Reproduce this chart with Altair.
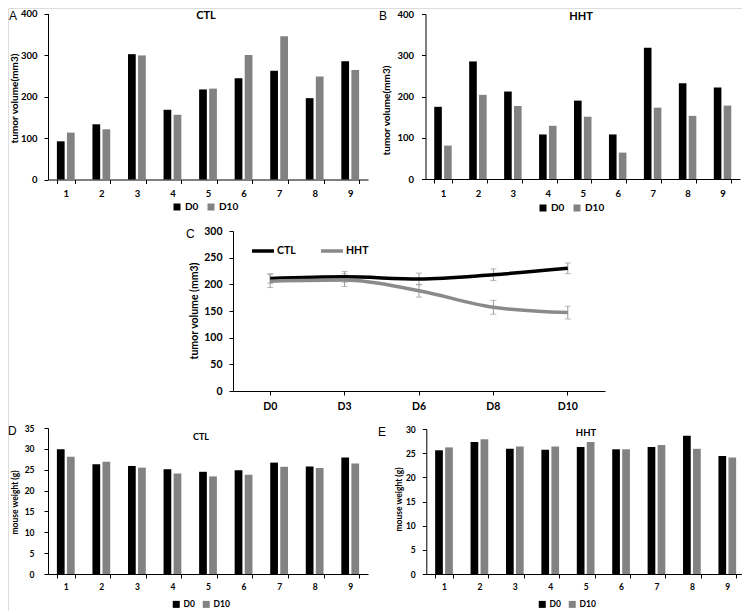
import altair as alt
import pandas as pd

# ---------------- data ----------------
mice = ["1", "2", "3", "4", "5", "6", "7", "8", "9"]
days = ["D0", "D10"]

a_d0 = [92, 133, 302, 168, 217, 244, 262, 196, 285]
a_d10 = [113, 121, 299, 156, 219, 300, 345, 248, 264]

b_d0 = [175, 285, 212, 108, 190, 108, 318, 232, 222]
b_d10 = [81, 204, 177, 129, 151, 64, 173, 153, 178]

c_days = ["D0", "D3", "D6", "D8", "D10"]
c_ctl = [211, 214, 210, 218, 230]
c_ctl_err = [9, 10, 11, 11, 10]
c_hht = [206, 208, 188, 157, 147]
c_hht_err = [12, 12, 12, 13, 12]

d_d0 = [29.9, 26.3, 25.9, 25.1, 24.5, 24.9, 26.7, 25.8, 27.9]
d_d10 = [28.1, 26.9, 25.5, 24.1, 23.4, 23.8, 25.7, 25.4, 26.5]

e_d0 = [25.6, 27.3, 25.9, 25.7, 26.3, 25.8, 26.3, 28.6, 24.4]
e_d10 = [26.2, 27.9, 26.4, 26.4, 27.3, 25.8, 26.7, 25.9, 24.1]

W, H = 734, 603
FONT = "Lato"
BLACK = "#000000"
GRAY = "#828282"


def bar_df(d0, d10):
    rows = []
    for m, v0, v1 in zip(mice, d0, d10):
        rows.append({"mouse": m, "day": "D0", "value": v0})
        rows.append({"mouse": m, "day": "D10", "value": v1})
    return pd.DataFrame(rows)


def bar_panel(df, xr, yr, ydom, yvals, ytitle, title_xy, lab_pad_y, lab_size,
              title_size, legend_xy, leg_size, xlab_pad):
    x0, x1 = xr
    y0, y1 = yr
    return alt.Chart(df).mark_bar().encode(
        x=alt.X("mouse:O", sort=mice,
                scale=alt.Scale(range=[x0, x1], paddingInner=0.5, paddingOuter=0.25),
                axis=alt.Axis(orient="bottom", offset=y0 - H, title=None, labelAngle=0,
                              tickBand="extent", tickSize=4, labelPadding=xlab_pad,
                              labelFontSize=lab_size, labelFontWeight="bold",
                              labelFont=FONT, labelColor=BLACK, domainColor=BLACK,
                              tickColor=BLACK, grid=False)),
        xOffset=alt.XOffset("day:N", sort=days,
                            scale=alt.Scale(paddingInner=0.23, paddingOuter=0)),
        y=alt.Y("value:Q",
                scale=alt.Scale(domain=ydom, range=[y0, y1], nice=False, zero=True),
                axis=alt.Axis(orient="left", offset=-x0, values=yvals, title=ytitle,
                              titleX=title_xy[0], titleY=title_xy[1], titleAngle=-90,
                              titleAlign="center", titleBaseline="middle",
                              titleFontSize=title_size, titleFont=FONT,
                              titleFontWeight="bold", titleColor=BLACK,
                              tickSize=4, labelPadding=lab_pad_y,
                              labelFontSize=lab_size, labelFontWeight="bold",
                              labelFont=FONT, labelColor=BLACK, domainColor=BLACK,
                              tickColor=BLACK, grid=False)),
        color=alt.Color("day:N", sort=days,
                        scale=alt.Scale(domain=days, range=[BLACK, GRAY]),
                        legend=alt.Legend(orient="none", legendX=legend_xy[0],
                                          legendY=legend_xy[1], direction="horizontal",
                                          title=None, symbolType="square",
                                          symbolSize=49, symbolStrokeWidth=0,
                                          labelFontSize=leg_size, labelFont=FONT,
                                          labelFontWeight="bold", labelColor=BLACK,
                                          labelOffset=3, columnPadding=7, padding=0)),
    )


panel_a = bar_panel(bar_df(a_d0, a_d10), (40, 360), (171.5, 5.5), [0, 400],
                    [0, 100, 200, 300, 400], "tumor volume(mm3)", (-34, 90),
                    7, 9.5, 10, (164, 194), 10, 5)
panel_b = bar_panel(bar_df(b_d0, b_d10), (417.5, 732), (171, 6), [0, 400],
                    [0, 100, 200, 300, 400], "tumor volume(mm3)", (-39, 102),
                    8, 9.5, 10, (530, 195), 10, 5)
panel_d = bar_panel(bar_df(d_d0, d_d10), (40, 360), (566, 420), [0, 35],
                    [0, 5, 10, 15, 20, 25, 30, 35], "mouse weight (g)", (-34, 494),
                    10, 8.5, 8.5, (164, 592), 8.5, 4)
panel_e = bar_panel(bar_df(e_d0, e_d10), (418.3, 737), (566, 421), [0, 30],
                    [0, 5, 10, 15, 20, 25, 30], "mouse weight (g)", (-28, 491),
                    7, 8.5, 8.5, (530, 592), 8.5, 4)

# ---------------- panel C ----------------
c_rows = []
for g, vals, errs in (("CTL", c_ctl, c_ctl_err), ("HHT", c_hht, c_hht_err)):
    for d, v, e in zip(c_days, vals, errs):
        c_rows.append({"day": d, "group": g, "value": v, "lo": v - e, "hi": v + e})
c_df = pd.DataFrame(c_rows)

cx0, cx1 = 225, 597
cy0, cy1 = 383, 223
c_xscale = alt.Scale(domain=c_days, range=[cx0, cx1], padding=0)
c_yscale = alt.Scale(domain=[0, 300], range=[cy0, cy1], nice=False)
c_xaxis = alt.Axis(orient="bottom", offset=cy0 - H, title=None, labelAngle=0,
                   tickSize=4, labelPadding=6, labelFontSize=10.5,
                   labelFontWeight="bold", labelFont=FONT, labelColor=BLACK,
                   domainColor=BLACK, tickColor=BLACK, grid=False)
c_yaxis = alt.Axis(orient="left", offset=-cx0, values=[0, 50, 100, 150, 200, 250, 300],
                   title="tumor volume (mm3)", titleX=-38.5, titleY=302.5,
                   titleAngle=-90, titleAlign="center", titleBaseline="middle",
                   titleFontSize=10.5, titleFont=FONT, titleFontWeight="bold",
                   titleColor=BLACK, tickSize=4, labelPadding=7, labelFontSize=10.5,
                   labelFontWeight="bold", labelFont=FONT, labelColor=BLACK,
                   domainColor=BLACK, tickColor=BLACK, grid=False)
c_color = alt.Color("group:N", scale=alt.Scale(domain=["CTL", "HHT"], range=[BLACK, "#8a8a8a"]),
                    legend=alt.Legend(orient="none", legendX=242, legendY=230,
                                      direction="horizontal", title=None,
                                      symbolType="stroke", symbolSize=484,
                                      symbolStrokeWidth=3.5, labelFontSize=10.5,
                                      labelFont=FONT, labelFontWeight="bold",
                                      labelColor=BLACK, labelOffset=1,
                                      columnPadding=18, padding=0))

c_base = alt.Chart(c_df)
c_err_rule = c_base.mark_rule(color="#9a9a9a", strokeWidth=1).encode(
    x=alt.X("day:O", sort=c_days, scale=c_xscale, axis=c_xaxis),
    y=alt.Y("lo:Q", scale=c_yscale, axis=c_yaxis),
    y2="hi:Q",
)
c_err_lo = c_base.mark_tick(color="#9a9a9a", size=6, thickness=1).encode(
    x=alt.X("day:O", sort=c_days, scale=c_xscale, axis=c_xaxis),
    y=alt.Y("lo:Q", scale=c_yscale, axis=c_yaxis),
)
c_err_hi = c_base.mark_tick(color="#9a9a9a", size=6, thickness=1).encode(
    x=alt.X("day:O", sort=c_days, scale=c_xscale, axis=c_xaxis),
    y=alt.Y("hi:Q", scale=c_yscale, axis=c_yaxis),
)
c_line = c_base.mark_line(strokeWidth=3.5, interpolate="monotone").encode(
    x=alt.X("day:O", sort=c_days, scale=c_xscale, axis=c_xaxis),
    y=alt.Y("value:Q", scale=c_yscale, axis=c_yaxis),
    color=c_color,
    order=alt.Order("day_idx:Q"),
).transform_calculate(
    day_idx="indexof(['D0','D3','D6','D8','D10'], datum.day)"
)
panel_c = alt.layer(c_err_rule, c_err_lo, c_err_hi, c_line)


# ---------------- titles and panel letters ----------------
def label(text, x, y, size, weight="bold", font=FONT, align="center", baseline="middle"):
    return alt.Chart(alt.Data(values=[{}])).mark_text(
        text=text, fontSize=size, fontWeight=weight, font=font, color=BLACK,
        align=align, baseline=baseline
    ).encode(x=alt.value(x), y=alt.value(y))


texts = [
    label("CTL", 198, 8, 11),
    label("HHT", 573, 9, 11),
    label("CTL", 193, 429, 9),
    label("HHT", 578, 425, 9.5),
    label("A", 1, 8, 12, "normal", "Liberation Sans", "left"),
    label("B", 371, 8, 12, "normal", "Liberation Sans", "left"),
    label("C", 178, 226, 12, "normal", "Liberation Sans", "left"),
    label("D", 0, 423, 12, "normal", "Liberation Sans", "left"),
    label("E", 370, 424, 12, "normal", "Liberation Sans", "left"),
]

chart = alt.layer(panel_a, panel_b, panel_c, panel_d, panel_e, *texts).resolve_scale(
    x="independent", y="independent", color="independent", xOffset="independent"
).resolve_axis(x="independent", y="independent").resolve_legend(
    color="independent"
).properties(
    width=W, height=H, autosize=alt.AutoSizeParams(type="none"), padding=0
).configure_view(stroke=None).configure(background="white")

chart.save("out.html", embed_options={"renderer": "svg", "actions": False})
